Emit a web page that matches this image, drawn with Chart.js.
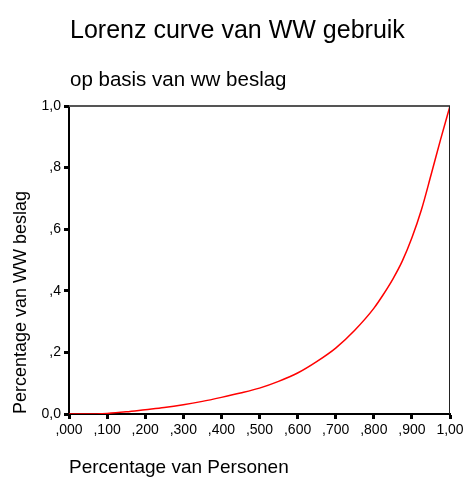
<!DOCTYPE html>
<html><head><meta charset="utf-8">
<script src="https://cdn.jsdelivr.net/npm/chart.js@4/dist/chart.umd.min.js"></script>
<style>html,body{margin:0;padding:0;background:#fff}#wrap{width:463px;height:477px}</style>
</head><body><div id="wrap"><canvas id="c" width="463" height="477"></canvas></div>
<script>
const titleText = "Lorenz curve van WW gebruik";
const subtitleText = "op basis van ww beslag";
const xTitle = "Percentage van Personen";
const yTitle = "Percentage van WW beslag";
const personShare = [0,0.05,0.10,0.15,0.20,0.25,0.30,0.35,0.40,0.45,0.50,0.55,0.60,0.65,0.70,0.75,0.80,0.825,0.85,0.875,0.90,0.925,0.95,0.975,1.0];
const beslagShare = [0,0,0.002,0.007,0.014,0.021,0.030,0.041,0.054,0.068,0.084,0.106,0.133,0.170,0.214,0.272,0.343,0.388,0.438,0.497,0.572,0.663,0.775,0.89,1.0];
const xTickLabels = [",000",",100",",200",",300",",400",",500",",600",",700",",800",",900","1,00"];
const yTickLabels = ["0,0",",2",",4",",6",",8","1,0"];

const FONT = "'Liberation Sans', Arial, sans-serif";
const titles = {
  id: 'titles',
  afterDraw(chart) {
    const ctx = chart.ctx, a = chart.chartArea;
    ctx.save();
    ctx.strokeStyle = '#555'; ctx.lineWidth = 2;
    ctx.beginPath(); ctx.moveTo(a.left, a.top); ctx.lineTo(a.right, a.top); ctx.stroke();
    ctx.strokeStyle = '#222'; ctx.lineWidth = 1;
    ctx.beginPath(); ctx.moveTo(a.right - 0.5, a.top); ctx.lineTo(a.right - 0.5, a.bottom); ctx.stroke();
    ctx.fillStyle = '#000'; ctx.textBaseline = 'alphabetic'; ctx.textAlign = 'left';
    ctx.font = "25px " + FONT; ctx.fillText(titleText, 70, 38);
    ctx.font = "20.5px " + FONT; ctx.fillText(subtitleText, 70, 86);
    ctx.restore();
  }
};
const data = personShare.map((x, i) => ({x, y: beslagShare[i]}));
new Chart(document.getElementById('c'), {
  type: 'line',
  data: { datasets: [{ data, borderColor: '#ff0000', borderWidth: 1.5, pointRadius: 0, fill: false, cubicInterpolationMode: 'monotone' }] },
  options: {
    responsive: false, animation: false,
    layout: { padding: { top: 106, right: 0, left: 0, bottom: 0 } },
    plugins: { legend: { display: false }, tooltip: { enabled: false } },
    scales: {
      x: {
        type: 'linear', min: 0, max: 1,
        afterFit(s) { s.height = 63; s.paddingRight = 13; },
        afterBuildTicks(s) { s.ticks = xTickLabels.map((l, i) => ({ value: i / 10 })); },
        ticks: { callback: (v, i) => xTickLabels[i], color: '#000', font: { family: FONT, size: 14 }, padding: 3, maxRotation: 0, autoSkip: false },
        grid: { drawOnChartArea: false, drawTicks: true, tickLength: 5, tickWidth: 3, color: '#000' },
        border: { display: true, color: '#000', width: 2 },
        title: { display: true, text: xTitle, align: 'start', color: '#000', font: { family: FONT, size: 19, lineHeight: 1 }, padding: { top: 0, bottom: 0 } }
      },
      y: {
        type: 'linear', min: 0, max: 1,
        afterFit(s) { s.width = 69; },
        afterBuildTicks(s) { s.ticks = yTickLabels.map((l, i) => ({ value: i / 5 })); },
        ticks: { callback: (v, i) => yTickLabels[i], color: '#000', font: { family: FONT, size: 14 }, padding: 3, autoSkip: false },
        grid: { drawOnChartArea: false, drawTicks: true, tickLength: 5, tickWidth: 3, color: '#000' },
        border: { display: true, color: '#000', width: 2 },
        title: { display: true, text: yTitle, align: 'start', color: '#000', font: { family: FONT, size: 18 }, padding: { top: 10, bottom: 0 } }
      }
    }
  },
  plugins: [titles]
});
</script></body></html>
